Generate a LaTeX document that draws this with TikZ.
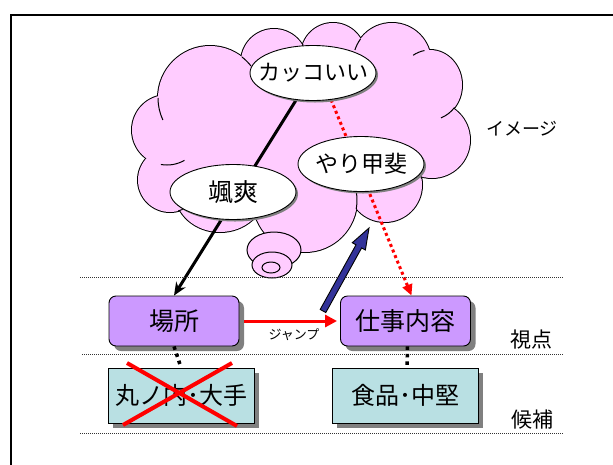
\documentclass[tikz,border=0pt]{standalone}
\usepackage{fontspec}
\newfontfamily\jp{Noto Sans CJK JP}
\usetikzlibrary{arrows.meta,shapes.geometric,shadows,calc}
\definecolor{cloudpink}{RGB}{255,204,255}
\definecolor{boxpurple}{RGB}{204,153,255}
\definecolor{boxteal}{RGB}{185,224,227}
\definecolor{navyarrow}{RGB}{51,51,153}
\definecolor{shade}{RGB}{128,128,128}
\pgfdeclarelayer{bg}
\pgfsetlayers{bg,main}
\newcommand{\jpfs}[1]{\jp\fontsize{#1}{#1}\selectfont}
\tikzset{
  bubble/.style={ellipse, draw, fill=white, line width=0.9pt, minimum width=126pt, minimum height=55pt, inner sep=0pt,
    drop shadow={shadow xshift=2pt, shadow yshift=-2pt, fill=shade, opacity=1}},
  viewbox/.style={draw, fill=boxpurple, line width=0.9pt, rounded corners=7pt, minimum width=130pt, minimum height=50pt, inner sep=0pt,
    drop shadow={shadow xshift=5pt, shadow yshift=-5pt, fill=shade, opacity=1}},
  candbox/.style={draw, fill=boxteal, line width=0.9pt, minimum width=146pt, minimum height=55pt, inner sep=0pt,
    drop shadow={shadow xshift=5pt, shadow yshift=-5pt, fill=shade, opacity=1}},
  guide/.style={line width=0.7pt, dash pattern=on 1pt off 1pt, black!80},
  sidelabel/.style={inner sep=0pt},
  bigdots/.style={line width=3.5pt, dash pattern=on 3.5pt off 4pt},
  hook/.style={line width=1pt},
}
\begin{document}
\begin{tikzpicture}[x=1pt,y=-1pt]
\useasboundingbox (0,0) rectangle (613,464);

% ellipses
\node[bubble] (k) at (313,73) {\makebox[0pt]{\jpfs{22}カッコいい}};
\node[bubble] (y) at (361,164) {\makebox[0pt]{\jpfs{23}やり甲斐}};
\node[bubble] (s) at (233,192) {\makebox[0pt]{\jpfs{25}颯爽}};

% boxes
\node[viewbox] (basho) at (174,321) {\jpfs{25}場所};
\node[viewbox] (shigoto) at (405.5,321) {\jpfs{25}仕事内容};
\node[candbox] (maru) at (181,395.5) {\jpfs{24}丸ノ内･大手};
\node[candbox] (shoku) at (405,395.5) {\jpfs{24}食品･中堅};

\begin{pgfonlayer}{bg}
  \fill[white] (0,0) rectangle (613,464);
  % frame
  \draw[line width=2pt] (11,470) -- (11,15) -- (620,15);
  % cloud: union of bumps
  \foreach \cx/\cy/\rx/\ry in {167/130/35/35,170/180/32/32,220/192/45/40,305/200/52/52,385/185/37/37,432/140/38/38,430/85/32/35,392/62/39/39,333/55/32/32,274/62/33/33,210/98/52/52,300/135/135/75}
    \draw[line width=2pt] (\cx,\cy) ellipse [x radius=\rx, y radius=\ry];
  \foreach \cx/\cy/\rx/\ry in {167/130/35/35,170/180/32/32,220/192/45/40,305/200/52/52,385/185/37/37,432/140/38/38,430/85/32/35,392/62/39/39,333/55/32/32,274/62/33/33,210/98/52/52,300/135/135/75}
    \fill[cloudpink] (\cx,\cy) ellipse [x radius=\rx, y radius=\ry];
  % inner hooks of the cloud bumps
  \draw[hook] ($(210,98)+(-52:52)$) arc[start angle=-52, end angle=-38, radius=52];
  \draw[hook] ($(333,55)+(200:32)$) arc[start angle=200, end angle=180, radius=32];
  \draw[hook] ($(392,62)+(216:39)$) arc[start angle=216, end angle=198, radius=39];
  \draw[hook] ($(430,85)+(-100:32 and 35)$) arc[start angle=-100, end angle=-122, x radius=32, y radius=35];
  \draw[hook] ($(430,85)+(40:32 and 35)$) arc[start angle=40, end angle=70, x radius=32, y radius=35];
  \draw[hook] ($(385,185)+(-10:37)$) arc[start angle=-10, end angle=-35, radius=37];
  \draw[hook] ($(305,200)+(10:52)$) arc[start angle=10, end angle=-12, radius=52];
  \draw[hook] ($(220,192)+(40:45 and 40)$) arc[start angle=40, end angle=15, x radius=45, y radius=40];
  \draw[hook] ($(170,180)+(75:32)$) arc[start angle=75, end angle=40, radius=32];
  \draw[hook] ($(167,130)+(100:35)$) arc[start angle=100, end angle=60, radius=35];
  \draw[hook] ($(210,98)+(180:52)$) arc[start angle=180, end angle=155, radius=52];
  % thought bubbles
  \filldraw[fill=cloudpink, line width=1pt] (274,250) ellipse [x radius=27, y radius=18];
  \filldraw[fill=cloudpink, line width=1pt] (272,265) ellipse [x radius=20, y radius=13];
  \filldraw[fill=cloudpink, line width=1pt] (271,267.5) ellipse [x radius=9, y radius=5.5];
  % connectors behind ellipses
  \draw[line width=3pt, -{Stealth[length=13pt,width=11pt]}] (k) -- (basho.north);
  \draw[red, line width=3pt, dash pattern=on 3pt off 3pt, -{Triangle[length=11pt,width=10pt]}] (k.-56) -- ($(shigoto.north)+(6,0)$);
\end{pgfonlayer}

% guides
\draw[guide] (80,277) -- (563,277);
\draw[guide] (82,354) -- (564,354);
\draw[guide] (80,433) -- (564,433);

% jump arrow
\draw[red, line width=3pt, -{Triangle[length=12pt,width=12pt]}, shorten <=5pt, shorten >=3pt] (basho.east) -- (shigoto.west);
\node[inner sep=0pt] (jump) at (294,335) {\jpfs{13}ジャンプ};

% dotted vertical connectors
\draw[bigdots] (basho.south) -- (maru.north);
\draw[bigdots] ($(shigoto.south)+(2,0)$) -- ($(shoku.north)+(2,0)$);

% red cross
\coordinate (x1) at (127,363);
\coordinate (x2) at (237,426);
\coordinate (x3) at (232,363);
\coordinate (x4) at (123,425);
\draw[red, line width=4pt] (x1) -- (x2);
\draw[red, line width=4pt] (x3) -- (x4);

% blue arrow
\coordinate (bt) at (323,311);
\coordinate (bh) at (369,228);
\coordinate (bhb) at ($(bh)!21pt!(bt)$);
\filldraw[fill=navyarrow, line width=0.9pt, line join=miter]
  ($(bt)!3.2pt!90:(bh)$) -- ($(bhb)!3.2pt!90:(bh)$) -- ($(bhb)!7.5pt!90:(bh)$) -- (bh)
  -- ($(bhb)!7.5pt!-90:(bh)$) -- ($(bhb)!3.2pt!-90:(bh)$) -- ($(bt)!3.2pt!-90:(bh)$) -- cycle;

% side labels
\node[sidelabel] (img) at (522,129) {\jpfs{18}イメージ};
\node[sidelabel] (shiten) at (531,340) {\jpfs{21}視点};
\node[sidelabel] (kouho) at (532,420) {\jpfs{21}候補};
\end{tikzpicture}
\end{document}
